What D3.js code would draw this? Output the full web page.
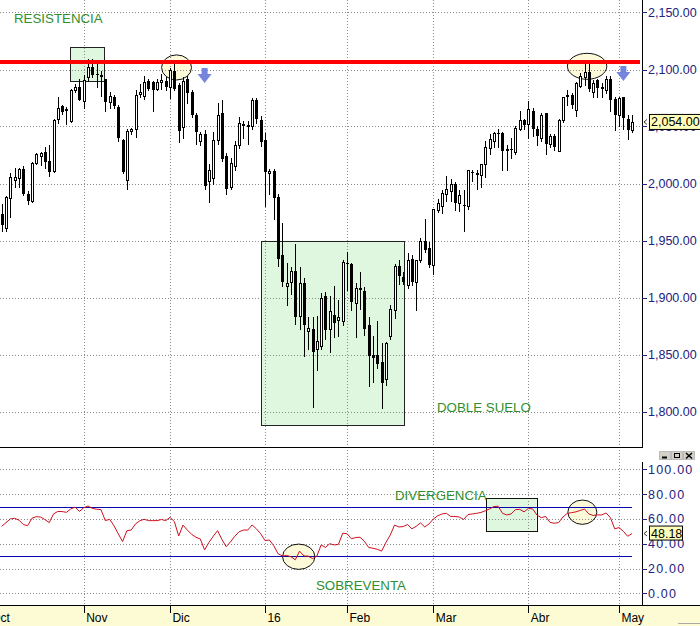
<!DOCTYPE html>
<html><head><meta charset="utf-8">
<script src="https://cdn.jsdelivr.net/npm/d3@7/dist/d3.min.js"></script>
<style>
body{margin:0;background:#fff;}
svg{display:block;font-family:"Liberation Sans",Arial,sans-serif;}
</style>
</head><body>
<svg id="chart" width="700" height="626"></svg>
<script>
// ---------- DATA ----------
const openP  = [1973,1961,1988,2003,2005,2013,1991,1985,2018,2024,2028,2020,2011,2056,2068,2064,2055,2082,2085,2073,
                2093,2102,2096,2095,2092,2072,2076,2067,2038,2003,2046,2048,2078,2077,2090,2089,2083,2089,2090,2085,
                2099,2086,2050,2092,2080,2060,2037,2043,2002,2005,2038,2062,2024,1997,2016,2034,2052,2051,2050,2073,
                2056,2038,2009,2011,1988,1937,1910,1913,1923,1884,1913,1870,1872,1855,1858,1901,1872,1885,1880,1879,
                1930,1929,1895,1908,1906,1876,1850,1850,1843,1828,1866,1889,1928,1918,1911,1934,1914,1933,1950,1943,
                1929,1977,1981,1991,1994,2000,1983,1981,1980,2010,2009,2007,2017,2031,2037,2044,2044,2030,2030,2028,
                2048,2056,2052,2064,2048,2040,2062,2035,2042,2029,2056,2078,2078,2064,2085,2094,2098,2080,2091,2085,
                2082,2092,2074,2060,2076,2057,2047];
const highP  = [1982,1989,2009,2014,2014,2015,1993,2019,2027,2028,2032,2034,2057,2076,2069,2067,2083,2087,2092,2095,
                2109,2109,2107,2099,2092,2080,2078,2069,2039,2048,2049,2082,2087,2094,2092,2090,2092,2096,2093,2101,
                2105,2088,2093,2094,2082,2062,2045,2047,2017,2045,2071,2073,2027,2022,2037,2058,2055,2055,2075,2075,
                2059,2044,2013,2013,1991,1965,1930,1927,1947,1927,1917,1883,1883,1884,1904,1905,1901,1910,1898,1933,
                1940,1930,1913,1922,1909,1883,1866,1879,1860,1861,1893,1929,1933,1922,1939,1937,1933,1952,1969,1949,
                1978,1986,1994,2007,2004,2001,1994,1994,2012,2012,2012,2017,2037,2043,2045,2048,2045,2034,2040,2050,
                2064,2057,2072,2066,2050,2062,2062,2043,2043,2057,2076,2082,2079,2089,2097,2105,2105,2091,2092,2088,
                2094,2094,2076,2076,2076,2060,2060];
const lowP   = [1958,1958,1971,1997,1997,1990,1982,1984,2017,2016,2014,2007,2010,2053,2061,2052,2054,2080,2073,2066,
                2090,2093,2085,2077,2064,2066,2066,2037,2009,1995,2043,2041,2076,2074,2082,2064,2082,2083,2082,2075,
                2082,2036,2040,2071,2058,2035,2034,1995,1984,2000,2035,2020,1991,1995,2012,2031,2040,2035,2048,2053,
                2033,1980,1991,1969,1928,1910,1893,1903,1877,1872,1849,1855,1804,1836,1855,1864,1852,1865,1866,1876,
                1907,1889,1865,1890,1867,1822,1826,1838,1803,1823,1864,1882,1912,1912,1908,1911,1889,1931,1940,1927,
                1921,1975,1974,1985,1985,1977,1976,1958,1978,2002,1995,1997,2006,2026,2032,2032,2012,2012,2022,2026,
                2047,2048,2040,2042,2034,2037,2026,2032,2029,2029,2054,2069,2066,2059,2085,2086,2081,2076,2076,2076,
                2079,2064,2047,2050,2048,2039,2045];
const closeP = [1963,1988,2006,2006,2013,1991,1985,2018,2026,2027,2019,2010,2056,2066,2063,2065,2082,2085,2074,2091,
                2102,2095,2095,2093,2072,2077,2068,2040,2010,2046,2048,2078,2080,2089,2083,2082,2089,2091,2085,2100,
                2083,2046,2090,2080,2060,2045,2043,1997,2012,2038,2060,2022,1995,2018,2034,2053,2050,2049,2073,2056,
                2037,2010,2011,1987,1934,1913,1913,1923,1883,1913,1876,1873,1852,1862,1900,1871,1888,1878,1883,1931,
                1929,1896,1908,1906,1873,1849,1847,1842,1825,1860,1890,1928,1919,1914,1933,1914,1933,1950,1942,1928,
                1978,1983,1992,1995,2000,1983,1990,1980,2012,2009,2007,2017,2032,2039,2044,2043,2028,2028,2029,2049,
                2056,2052,2065,2048,2042,2060,2035,2042,2032,2056,2076,2076,2069,2088,2094,2098,2083,2088,2084,2083,
                2092,2074,2060,2075,2058,2047,2054];
const rsiVals = [54,57,60,60.5,59,55.5,54.5,60.5,61.8,61.5,59.5,57,64,66,65.9,65.3,68,69.5,66,69,
                 70.4,68.5,67.8,67.5,58.6,59.7,54.5,48,41.7,50.5,51,56,58.5,59.7,58.6,58.6,58.6,59.5,58.6,61.3,
                 57.8,46.2,55,51,47.5,45.2,43.8,35,41,46,50.5,43.5,37.6,41.5,46,49.7,51,51,55.1,52,
                 48,42.5,43,38.5,32,30.1,30.5,29.5,27,34,30.1,30,28,30,39,37,40,39,39.5,48.5,
                 48,44,45,45.2,42,37,36.3,35.5,34,41,47,55,53.5,53.8,55.5,52,54,56.8,53.5,56,
                 60,62.5,64,64.5,62,62,61.5,59.5,63.5,64,64.5,65.2,66.5,68,70,70.2,64.5,63.2,64,67.5,
                 67.7,65.7,68.5,68,63,61,62,57.2,56.5,57,61.5,64.5,65,65.7,66.8,68,64,62.8,63.2,63.2,
                 64.8,61,52,53,50,46,48.18];
const monthIdx    = [-3,19,39,61,80,100,122,143];
const monthLabels = ["Oct","Nov","Dic","16","Feb","Mar","Abr","May"];
const priceTicks  = [1800,1850,1900,1950,2000,2050,2100,2150];
const rsiTicks    = [0,20,40,60,80,100];
const rsiBands    = [30,70];
const resistance  = 2106.6;
const lastPrice   = 2054.00;
const lastRsi     = 48.18;

// annotations in data units (index, value)
const priceBoxes = [{x0:15.8,x1:23.7,y0:2090,y1:2119.7},{x0:60.1,x1:93.2,y0:1788.2,y1:1949.8}];
const priceEllipses = [{cx:40.5,cy:2101.8,rx:3.47,ry:11},{cx:135.6,cy:2102.8,rx:4.56,ry:11.4}];
const priceArrows = [{x:47,y:2101.3},{x:144,y:2103}];
const rsiBoxes = [{x0:112.1,x1:123.9,y0:50.2,y1:76.6}];
const rsiEllipses = [{cx:68.8,cy:29.5,rx:3.75,ry:10.2},{cx:134.5,cy:65.4,rx:3.36,ry:9.8}];

// ---------- LAYOUT ----------
const W=700,H=626, axisX=642, mainBottom=447, rsiTop=447, rsiBottom=605;
const svg=d3.select("#chart");
const x=d3.scaleLinear().domain([0,146]).range([1.7,632]);
const yP=d3.scaleLinear().domain([1800,2100]).range([411.5,69.5]);
const yR=d3.scaleLinear().domain([0,100]).range([593.3,469.3]);
const navy="#22227f", green="#2f8f2f";

svg.append("rect").attr("width",W).attr("height",H).attr("fill","#fff");
const defs=svg.append("defs");
defs.append("clipPath").attr("id","cm").append("rect").attr("x",0).attr("y",0).attr("width",axisX).attr("height",mainBottom);
defs.append("clipPath").attr("id","cr").append("rect").attr("x",0).attr("y",rsiTop).attr("width",axisX).attr("height",rsiBottom-rsiTop);

const gm=svg.append("g").attr("clip-path","url(#cm)");
const gr=svg.append("g").attr("clip-path","url(#cr)");
const layer=(g,cls)=>g.append("g").attr("class",cls);

// fills of annotations
layer(gm,"pbf").selectAll("rect").data(priceBoxes).join("rect")
  .attr("x",d=>x(d.x0)).attr("width",d=>x(d.x1)-x(d.x0))
  .attr("y",d=>yP(d.y1)).attr("height",d=>yP(d.y0)-yP(d.y1))
  .attr("fill","#dff7df");
layer(gm,"pef").selectAll("ellipse").data(priceEllipses).join("ellipse")
  .attr("cx",d=>x(d.cx)).attr("cy",d=>yP(d.cy))
  .attr("rx",d=>x(d.rx)-x(0)).attr("ry",d=>yP(d.cy-d.ry)-yP(d.cy))
  .attr("fill","#fcfad8");
layer(gr,"rbf").selectAll("rect").data(rsiBoxes).join("rect")
  .attr("x",d=>x(d.x0)).attr("width",d=>x(d.x1)-x(d.x0))
  .attr("y",d=>yR(d.y1)).attr("height",d=>yR(d.y0)-yR(d.y1))
  .attr("fill","#dff7df");
layer(gr,"ref").selectAll("ellipse").data(rsiEllipses).join("ellipse")
  .attr("cx",d=>x(d.cx)).attr("cy",d=>yR(d.cy))
  .attr("rx",d=>x(d.rx)-x(0)).attr("ry",d=>yR(d.cy-d.ry)-yR(d.cy))
  .attr("fill","#fcfad8");

// grid
const dot={stroke:"#8a8a8a","stroke-dasharray":"1,2","stroke-width":1};
function applyAttrs(sel,o){for(const k in o) sel.attr(k,o[k]); return sel;}
applyAttrs(layer(gm,"hg").selectAll("line").data(priceTicks).join("line")
  .attr("x1",0).attr("x2",axisX).attr("y1",d=>Math.round(yP(d))+0.5).attr("y2",d=>Math.round(yP(d))+0.5),dot);
applyAttrs(layer(gr,"hg").selectAll("line").data(rsiTicks).join("line")
  .attr("x1",0).attr("x2",axisX).attr("y1",d=>Math.round(yR(d))+0.5).attr("y2",d=>Math.round(yR(d))+0.5),dot);
applyAttrs(layer(gm,"vg").selectAll("line").data(monthIdx).join("line")
  .attr("x1",d=>Math.round(x(d))+0.5).attr("x2",d=>Math.round(x(d))+0.5).attr("y1",0).attr("y2",mainBottom),dot);
applyAttrs(layer(gr,"vg").selectAll("line").data(monthIdx).join("line")
  .attr("x1",d=>Math.round(x(d))+0.5).attr("x2",d=>Math.round(x(d))+0.5).attr("y1",rsiTop).attr("y2",rsiBottom),dot);

// annotation outlines
layer(gm,"pbo").selectAll("rect").data(priceBoxes).join("rect")
  .attr("x",d=>Math.round(x(d.x0))+0.5).attr("width",d=>Math.round(x(d.x1)-x(d.x0)))
  .attr("y",d=>Math.round(yP(d.y1))+0.5).attr("height",d=>Math.round(yP(d.y0)-yP(d.y1)))
  .attr("fill","none").attr("stroke","#222").attr("stroke-width",1);
layer(gm,"peo").selectAll("ellipse").data(priceEllipses).join("ellipse")
  .attr("cx",d=>x(d.cx)).attr("cy",d=>yP(d.cy))
  .attr("rx",d=>x(d.rx)-x(0)).attr("ry",d=>yP(d.cy-d.ry)-yP(d.cy))
  .attr("fill","none").attr("stroke","#111").attr("stroke-width",1);
layer(gr,"rbo").selectAll("rect").data(rsiBoxes).join("rect")
  .attr("x",d=>Math.round(x(d.x0))+0.5).attr("width",d=>Math.round(x(d.x1)-x(d.x0)))
  .attr("y",d=>Math.round(yR(d.y1))+0.5).attr("height",d=>Math.round(yR(d.y0)-yR(d.y1)))
  .attr("fill","none").attr("stroke","#111").attr("stroke-width",1);
layer(gr,"reo").selectAll("ellipse").data(rsiEllipses).join("ellipse")
  .attr("cx",d=>x(d.cx)).attr("cy",d=>yR(d.cy))
  .attr("rx",d=>x(d.rx)-x(0)).attr("ry",d=>yR(d.cy-d.ry)-yR(d.cy))
  .attr("fill","none").attr("stroke","#111").attr("stroke-width",1);

// candles
const candles=openP.map((o,i)=>({i,o,h:highP[i],l:lowP[i],c:closeP[i]}));
const cg=layer(gm,"candles").attr("shape-rendering","crispEdges");
const cx=d=>Math.round(x(d.i))+0.5;
cg.append("g").selectAll("line").data(candles).join("line")
  .attr("x1",cx).attr("x2",cx).attr("y1",d=>Math.round(yP(d.h))).attr("y2",d=>Math.round(yP(d.l))+1)
  .attr("stroke","#000").attr("stroke-width",1);
cg.append("g").selectAll("rect").data(candles).join("rect")
  .attr("x",d=>d.c>=d.o?cx(d)-1:cx(d)-1.5)
  .attr("width",d=>d.c>=d.o?2:3)
  .attr("y",d=>{const t=Math.round(yP(Math.max(d.o,d.c)));return d.c>=d.o?t+0.5:t;})
  .attr("height",d=>Math.max(1,Math.round(Math.abs(yP(d.o)-yP(d.c)))))
  .attr("fill",d=>d.c>=d.o?"#fff":"#000")
  .attr("stroke",d=>d.c>=d.o?"#000":"none").attr("stroke-width",1);

// resistance line
gm.append("line").attr("x1",0).attr("x2",axisX-2).attr("y1",yP(resistance)).attr("y2",yP(resistance))
  .attr("stroke","#ff0000").attr("stroke-width",4);

// arrows
layer(gm,"arrows").selectAll("path").data(priceArrows).join("path")
  .attr("d",d=>{const X=x(d.x),Y=yP(d.y);
    return `M${X-3},${Y}H${X+3}V${Y+6}H${X+7}L${X},${Y+15}L${X-7},${Y+6}H${X-3}Z`;})
  .attr("fill","#7585dc");

// RSI bands + line
layer(gr,"bands").selectAll("line").data(rsiBands).join("line")
  .attr("x1",0).attr("x2",x(146)).attr("y1",d=>Math.round(yR(d))+0.5).attr("y2",d=>Math.round(yR(d))+0.5)
  .attr("stroke","#0808b0").attr("stroke-width",1).attr("stroke-dasharray",null);
gr.append("path").datum(rsiVals).attr("d",d3.line().x((d,i)=>x(i)).y(d=>yR(d)))
  .attr("fill","none").attr("stroke","#cc1020").attr("stroke-width",1);

// text annotations
const tstyle=s=>s.attr("fill",green).attr("font-size",13.3);
tstyle(svg.append("text").attr("x",14).attr("y",23).text("RESISTENCIA"));
tstyle(svg.append("text").attr("x",437).attr("y",412).text("DOBLE SUELO"));
tstyle(svg.append("text").attr("x",395).attr("y",499.5).text("DIVERGENCIA"));
tstyle(svg.append("text").attr("x",316).attr("y",590).text("SOBREVENTA"));

// frame lines
svg.append("line").attr("x1",0).attr("x2",axisX+0.5).attr("y1",447.5).attr("y2",447.5).attr("stroke","#000");
svg.append("line").attr("x1",axisX+0.5).attr("x2",axisX+0.5).attr("y1",0).attr("y2",448).attr("stroke","#000");
svg.append("line").attr("x1",axisX+0.5).attr("x2",axisX+0.5).attr("y1",462).attr("y2",605).attr("stroke","#000");

// right axis: price
const pa=svg.append("g");
pa.append("g").selectAll("line").data(priceTicks).join("line")
  .attr("x1",axisX).attr("x2",axisX+5).attr("y1",d=>Math.round(yP(d))+0.5).attr("y2",d=>Math.round(yP(d))+0.5)
  .attr("stroke",navy);
const fmt=d3.format(",.2f");
pa.append("g").selectAll("text").data(priceTicks).join("text")
  .attr("x",axisX+6).attr("y",d=>yP(d)+4.5).attr("font-size",12.5).attr("fill",navy).text(d=>fmt(d));
// last price tag
svg.append("rect").attr("x",649.5).attr("y",yP(lastPrice)-7.5).attr("width",60).attr("height",15)
  .attr("fill","#ffffb8").attr("stroke","#000");
svg.append("text").attr("x",651).attr("y",yP(lastPrice)+4.5).attr("font-size",12.5).attr("fill","#000").text(fmt(lastPrice));
svg.append("path").attr("d",`M647,${yP(lastPrice)-2.5}L644,${yP(lastPrice)}L647,${yP(lastPrice)+2.5}`)
  .attr("fill","none").attr("stroke","#333");

// right axis: RSI
const ra=svg.append("g");
ra.append("g").selectAll("line").data(rsiTicks).join("line")
  .attr("x1",axisX).attr("x2",axisX+5).attr("y1",d=>Math.round(yR(d))+0.5).attr("y2",d=>Math.round(yR(d))+0.5)
  .attr("stroke",navy);
ra.append("g").selectAll("text").data(rsiTicks).join("text")
  .attr("x",axisX+6).attr("y",d=>yR(d)+4.5).attr("font-size",12.5).attr("letter-spacing",1.2)
  .attr("fill",navy).text(d=>d3.format(".2f")(d));
svg.append("rect").attr("x",649.5).attr("y",yR(lastRsi)-7.5).attr("width",33).attr("height",14)
  .attr("fill","#ffffb8").attr("stroke","#000");
svg.append("text").attr("x",651).attr("y",yR(lastRsi)+4.3).attr("font-size",12.5).attr("fill","#000").text(d3.format(".2f")(lastRsi));
svg.append("path").attr("d",`M647,${yR(lastRsi)-2.5}L644,${yR(lastRsi)}L647,${yR(lastRsi)+2.5}`)
  .attr("fill","none").attr("stroke","#333");

// window buttons
const btn=svg.append("g");
[659,671,683].forEach((bx,k)=>{
  btn.append("rect").attr("x",bx+0.5).attr("y",451.5).attr("width",11).attr("height",8).attr("fill","#d4d0c8").attr("stroke","#bbb");
  if(k===0) btn.append("line").attr("x1",bx+3).attr("x2",bx+8).attr("y1",457.5).attr("y2",457.5).attr("stroke","#000").attr("stroke-width",2);
  if(k===1) btn.append("rect").attr("x",bx+3.5).attr("y",453.5).attr("width",5).attr("height",4).attr("fill","none").attr("stroke","#000");
  if(k===2) btn.append("path").attr("d",`M${bx+3},453L${bx+9},458.5M${bx+9},453L${bx+3},458.5`).attr("stroke","#000").attr("stroke-width",1.5);
});

// x axis band
svg.append("rect").attr("x",0).attr("y",605).attr("width",W).attr("height",21).attr("fill","#fdfbd4");
svg.append("line").attr("x1",0).attr("x2",W).attr("y1",605.5).attr("y2",605.5).attr("stroke","#000");
const xa=svg.append("g");
xa.append("g").selectAll("line").data(monthIdx).join("line")
  .attr("x1",d=>Math.round(x(d))+0.5).attr("x2",d=>Math.round(x(d))+0.5).attr("y1",605).attr("y2",613).attr("stroke","#000");
xa.append("g").selectAll("text").data(monthIdx).join("text")
  .attr("x",d=>x(d)+2.4).attr("y",621.5).attr("font-size",12).attr("fill","#000").text((d,i)=>monthLabels[i]);
svg.append("line").attr("x1",678).attr("x2",700).attr("y1",623.5).attr("y2",623.5).attr("stroke","#aaa");
</script>
</body></html>
